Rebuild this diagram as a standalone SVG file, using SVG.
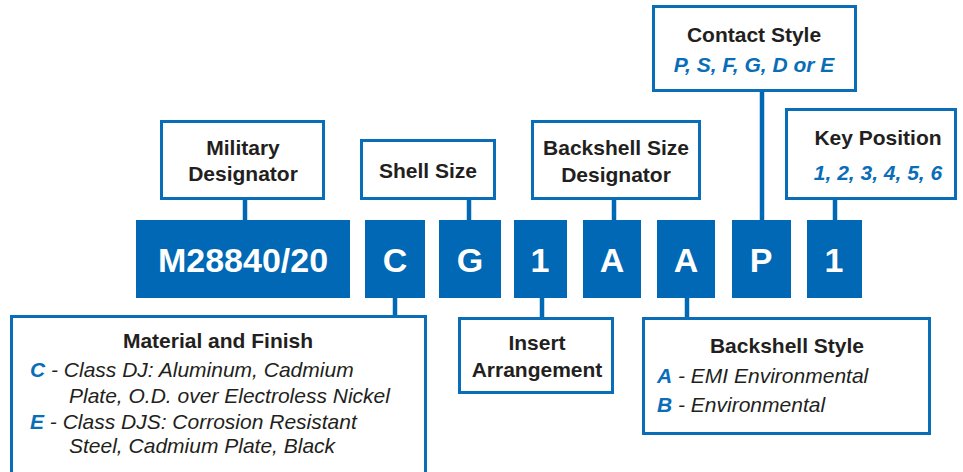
<svg xmlns="http://www.w3.org/2000/svg" width="963" height="472" viewBox="0 0 963 472">
<style>
.lbl{fill:#fff;stroke:#0a6db7;stroke-width:3}
.code{fill:#0068b4}
.conn{stroke:#0068b4;stroke-width:4.5;fill:none}
.ct{font-family:"Liberation Sans",Arial,sans-serif;font-weight:bold;font-size:34px;fill:#fff;text-anchor:middle}
.t{font-family:"Liberation Sans",Arial,sans-serif;font-weight:bold;font-size:21px;fill:#231f20;text-anchor:middle}
.bi{font-family:"Liberation Sans",Arial,sans-serif;font-weight:bold;font-style:italic;font-size:21px;fill:#0a6db7}
.i{font-family:"Liberation Sans",Arial,sans-serif;font-style:italic;font-size:21px;fill:#231f20}
</style>
<rect width="963" height="472" fill="#fff"/>
<g id="connectors">
<line class="conn" x1="245" y1="200" x2="245" y2="221"/>
<line class="conn" x1="469" y1="200" x2="469" y2="221"/>
<line class="conn" x1="614" y1="200" x2="614" y2="221"/>
<line class="conn" x1="762" y1="92" x2="762" y2="221"/>
<line class="conn" x1="835" y1="200" x2="835" y2="221"/>
<line class="conn" x1="395" y1="298" x2="395" y2="316"/>
<line class="conn" x1="542" y1="298" x2="542" y2="318"/>
<line class="conn" x1="687" y1="298" x2="687" y2="318"/>
</g>
<g id="code-m28840">
<rect class="code" x="136" y="220" width="214" height="78"/>
<text class="ct" x="243" y="272">M28840/20</text>
</g>
<g id="code-c"><rect class="code" x="365" y="220" width="60" height="78"/><text class="ct" x="395" y="272">C</text></g>
<g id="code-g"><rect class="code" x="439" y="220" width="62" height="78"/><text class="ct" x="470" y="272">G</text></g>
<g id="code-1a"><rect class="code" x="514" y="220" width="53" height="78"/><text class="ct" x="540" y="272">1</text></g>
<g id="code-a1"><rect class="code" x="583" y="220" width="58" height="78"/><text class="ct" x="612" y="272">A</text></g>
<g id="code-a2"><rect class="code" x="657" y="220" width="58" height="78"/><text class="ct" x="686" y="272">A</text></g>
<g id="code-p"><rect class="code" x="732" y="220" width="59" height="78"/><text class="ct" x="761" y="272">P</text></g>
<g id="code-1b"><rect class="code" x="807" y="220" width="55" height="78"/><text class="ct" x="834" y="272">1</text></g>

<g id="military-designator">
<rect class="lbl" x="161.5" y="121.5" width="162" height="77"/>
<text class="t" x="243" y="155">Military</text>
<text class="t" x="243" y="181">Designator</text>
</g>
<g id="shell-size">
<rect class="lbl" x="361.5" y="140.5" width="133" height="58"/>
<text class="t" x="428" y="178">Shell Size</text>
</g>
<g id="backshell-size-designator">
<rect class="lbl" x="532.5" y="121.5" width="167" height="77"/>
<text class="t" x="616" y="155">Backshell Size</text>
<text class="t" x="616" y="182">Designator</text>
</g>
<g id="contact-style">
<rect class="lbl" x="653.5" y="6.5" width="202" height="84"/>
<text class="t" x="754" y="42">Contact Style</text>
<text class="bi" x="754" y="72" text-anchor="middle">P, S, F, G, D or E</text>
</g>
<g id="key-position">
<rect class="lbl" x="786.5" y="109.5" width="169" height="89"/>
<text class="t" x="878" y="145">Key Position</text>
<text class="bi" x="878" y="180" text-anchor="middle">1, 2, 3, 4, 5, 6</text>
</g>
<g id="material-finish">
<rect class="lbl" x="11.5" y="316.5" width="414" height="160"/>
<text class="t" x="218" y="348">Material and Finish</text>
<text class="i" x="30" y="377"><tspan class="bi">C</tspan> - Class DJ: Aluminum, Cadmium</text>
<text class="i" x="69" y="403">Plate, O.D. over Electroless Nickel</text>
<text class="i" x="30" y="429"><tspan class="bi">E</tspan> - Class DJS: Corrosion Resistant</text>
<text class="i" x="69" y="453">Steel, Cadmium Plate, Black</text>
</g>
<g id="insert-arrangement">
<rect class="lbl" x="459.5" y="318.5" width="153" height="74"/>
<text class="t" x="537" y="350">Insert</text>
<text class="t" x="537" y="377">Arrangement</text>
</g>
<g id="backshell-style">
<rect class="lbl" x="643.5" y="318.5" width="286" height="115"/>
<text class="t" x="787" y="353">Backshell Style</text>
<text class="i" x="657" y="383"><tspan class="bi">A</tspan> - EMI Environmental</text>
<text class="i" x="657" y="412"><tspan class="bi">B</tspan> - Environmental</text>
</g>
</svg>
